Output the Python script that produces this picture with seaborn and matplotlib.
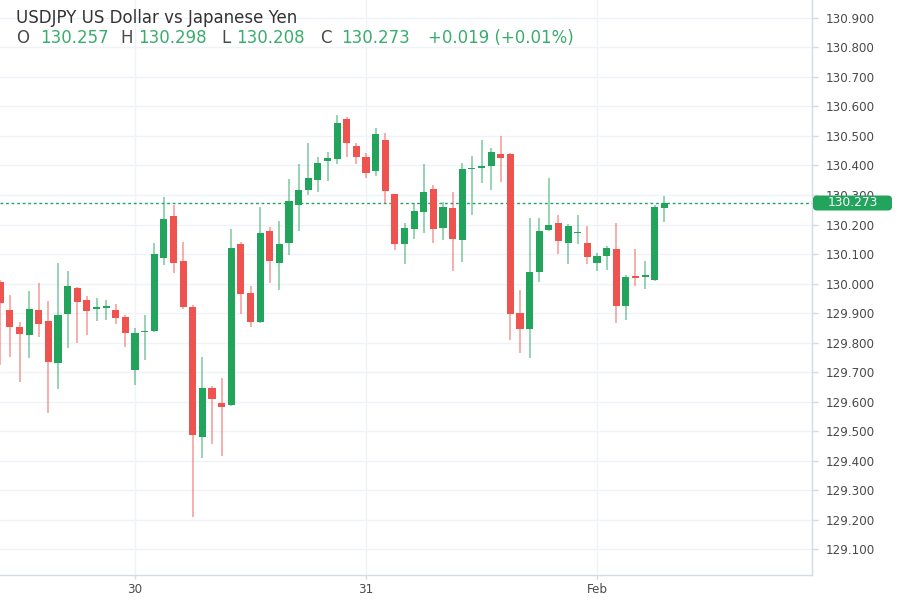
import numpy as np
import pandas as pd
import matplotlib
matplotlib.use("Agg")
import matplotlib.pyplot as plt
import matplotlib.transforms as mtrans
from matplotlib.patches import FancyBboxPatch
import seaborn as sns

# ---------------- data (hourly candles, USDJPY) ----------------
start_time = "2023-01-29 10:00"
opens = [130.006, 129.910, 129.854, 129.824, 129.910, 129.874, 129.732, 129.897, 129.984, 129.944,
         129.915, 129.918, 129.910, 129.885, 129.707, 129.835, 129.840, 130.085, 130.229, 130.077,
         129.919, 129.481, 129.645, 129.596, 129.588, 130.133, 129.969, 129.871, 130.178, 130.071,
         130.138, 130.266, 130.317, 130.351, 130.416, 130.422, 130.558, 130.467, 130.428, 130.381,
         130.486, 130.303, 130.134, 130.185, 130.243, 130.319, 130.189, 130.257, 130.147, 130.387,
         130.393, 130.398, 130.438, 130.438, 129.899, 129.846, 130.038, 130.181, 130.204, 130.138,
         130.170, 130.138, 130.071, 130.093, 130.116, 129.925, 130.025, 130.023, 130.012, 130.257]
highs = [130.012, 129.961, 129.871, 129.976, 130.001, 129.941, 130.068, 130.042, 129.989, 129.958,
         129.952, 129.944, 129.931, 129.893, 129.848, 129.893, 130.136, 130.294, 130.266, 130.142,
         129.927, 129.752, 129.652, 129.679, 130.184, 130.142, 129.992, 130.260, 130.190, 130.213,
         130.353, 130.405, 130.475, 130.430, 130.447, 130.571, 130.563, 130.475, 130.441, 130.528,
         130.509, 130.305, 130.204, 130.272, 130.405, 130.334, 130.277, 130.311, 130.407, 130.432,
         130.486, 130.460, 130.500, 130.441, 129.978, 130.223, 130.221, 130.357, 130.232, 130.202,
         130.232, 130.195, 130.102, 130.127, 130.206, 130.029, 130.116, 130.076, 130.266, 130.298]
lows = [129.724, 129.752, 129.667, 129.746, 129.818, 129.560, 129.641, 129.782, 129.799, 129.825,
        129.873, 129.876, 129.862, 129.786, 129.656, 129.741, 129.835, 130.063, 130.035, 129.915,
        129.208, 129.407, 129.456, 129.416, 129.585, 129.897, 129.854, 129.866, 130.003, 129.978,
        130.097, 130.179, 130.300, 130.311, 130.347, 130.404, 130.428, 130.405, 130.357, 130.364,
        130.274, 130.114, 130.065, 130.150, 130.170, 130.138, 130.147, 130.042, 130.074, 130.232,
        130.342, 130.317, 130.345, 129.808, 129.765, 129.746, 130.006, 130.178, 130.100, 130.065,
        130.133, 130.066, 130.043, 130.046, 129.865, 129.876, 129.993, 129.981, 130.010, 130.208]
closes = [129.935, 129.852, 129.829, 129.913, 129.863, 129.733, 129.893, 129.993, 129.938, 129.908,
          129.919, 129.924, 129.882, 129.832, 129.833, 129.840, 130.100, 130.219, 130.071, 129.919,
          129.486, 129.645, 129.608, 129.580, 130.119, 129.964, 129.868, 130.172, 130.077, 130.134,
          130.281, 130.317, 130.359, 130.410, 130.424, 130.545, 130.475, 130.430, 130.376, 130.506,
          130.315, 130.134, 130.187, 130.246, 130.309, 130.184, 130.258, 130.150, 130.388, 130.393,
          130.399, 130.445, 130.424, 129.897, 129.846, 130.040, 130.179, 130.198, 130.145, 130.196,
          130.175, 130.091, 130.093, 130.119, 129.925, 130.023, 130.020, 130.029, 130.258, 130.273]

day_ticks = ["2023-01-30", "2023-01-31", "2023-02-01"]
day_labels = ["30", "31", "Feb"]
y_ticks = [129.1, 129.2, 129.3, 129.4, 129.5, 129.6, 129.7, 129.8, 129.9, 130.0,
           130.1, 130.2, 130.3, 130.4, 130.5, 130.6, 130.7, 130.8, 130.9]

title_text = "USDJPY US Dollar vs Japanese Yen"
ohlc_labels = ["O", "H", "L", "C"]
last_o, last_h, last_l, last_c = 130.257, 130.298, 130.208, 130.273
change_text = "+0.019 (+0.01%)"

# ---------------- build frame ----------------
times = pd.date_range(start_time, periods=len(opens), freq="h")
ref0 = pd.Timestamp("2023-01-30 00:00")
df = pd.DataFrame({"time": times, "open": opens, "high": highs, "low": lows, "close": closes})
df["x"] = (df["time"] - ref0) / pd.Timedelta(hours=1)
df["up"] = df["close"] >= df["open"]

GREEN = "#22a45d"
RED = "#ef5350"
TXT = "#4a4a4a"
GRID = "#eff2f6"
AX = "#d3dbe4"

sns.set_theme(style="white")
plt.rcParams["font.family"] = ["DejaVu Sans"]

fig = plt.figure(figsize=(9, 6), dpi=100)
ax = fig.add_axes([0.0, 25 / 600, 812 / 900, 575 / 600])

# wicks
for up, col in [(True, GREEN), (False, RED)]:
    sub = df[df["up"] == up]
    ax.vlines(sub["x"], sub["low"], sub["high"], color=col, alpha=0.55, lw=1.2, zorder=2)
    bottom = np.minimum(sub["open"], sub["close"])
    height = np.maximum(np.abs(sub["close"] - sub["open"]), 0.005)
    ax.bar(sub["x"], height, bottom=bottom, width=0.74, color=col, edgecolor="none", zorder=3)

# current price line
ax.axhline(last_c, color=GREEN, lw=1.0, ls=(0, (2, 2)), zorder=1)

# axes ranges
ax.set_xlim(-14.03, 70.34)
ax.set_ylim(129.0119, 130.961)

ax.yaxis.tick_right()
ax.set_yticks(y_ticks)
ax.set_yticklabels([f"{v:.3f}" for v in y_ticks])
xt = [(pd.Timestamp(d) - ref0) / pd.Timedelta(hours=1) for d in day_ticks]
ax.set_xticks(xt)
ax.set_xticklabels(day_labels)

ax.tick_params(axis="y", which="both", right=True, left=False, length=4, width=1,
               color=AX, labelcolor=TXT, labelsize=8.6, pad=6)
ax.tick_params(axis="x", which="both", bottom=True, length=3, width=1,
               color=AX, labelcolor=TXT, labelsize=8.6, pad=3)

ax.grid(True, color=GRID, lw=1, zorder=0)
ax.set_axisbelow(True)
for side in ["left", "top"]:
    ax.spines[side].set_visible(False)
for side in ["right", "bottom"]:
    ax.spines[side].set_color(AX)
    ax.spines[side].set_linewidth(1)

ax.set_xlabel("")
ax.set_ylabel("")

# price tag on the right axis
ident = mtrans.IdentityTransform()
tag = FancyBboxPatch((813, 600 - 210.5), 79, 15, boxstyle="round,pad=0,rounding_size=4",
                     transform=ident, fc=GREEN, ec="none", zorder=10, clip_on=False)
fig.patches.append(tag)
fig.text(852.5 / 900, 1 - 203 / 600, f"{last_c:.3f}", ha="center", va="center",
         color="white", fontsize=8.8, zorder=11)

# header
fig.text(16 / 900, 1 - 23 / 600, title_text, ha="left", va="baseline", color="#333333",
         fontsize=12)
hdr_green = "#3aad6c"
pieces = [("O", 16, TXT), (f"{last_o:.3f}", 40, hdr_green),
          ("H", 120, TXT), (f"{last_h:.3f}", 138, hdr_green),
          ("L", 221, TXT), (f"{last_l:.3f}", 236, hdr_green),
          ("C", 320, TXT), (f"{last_c:.3f}", 341, hdr_green),
          (change_text, 428, hdr_green)]
for s, px, c in pieces:
    fig.text(px / 900, 1 - 43 / 600, s, ha="left", va="baseline", color=c, fontsize=12)

fig.savefig("out.png", dpi=100)
